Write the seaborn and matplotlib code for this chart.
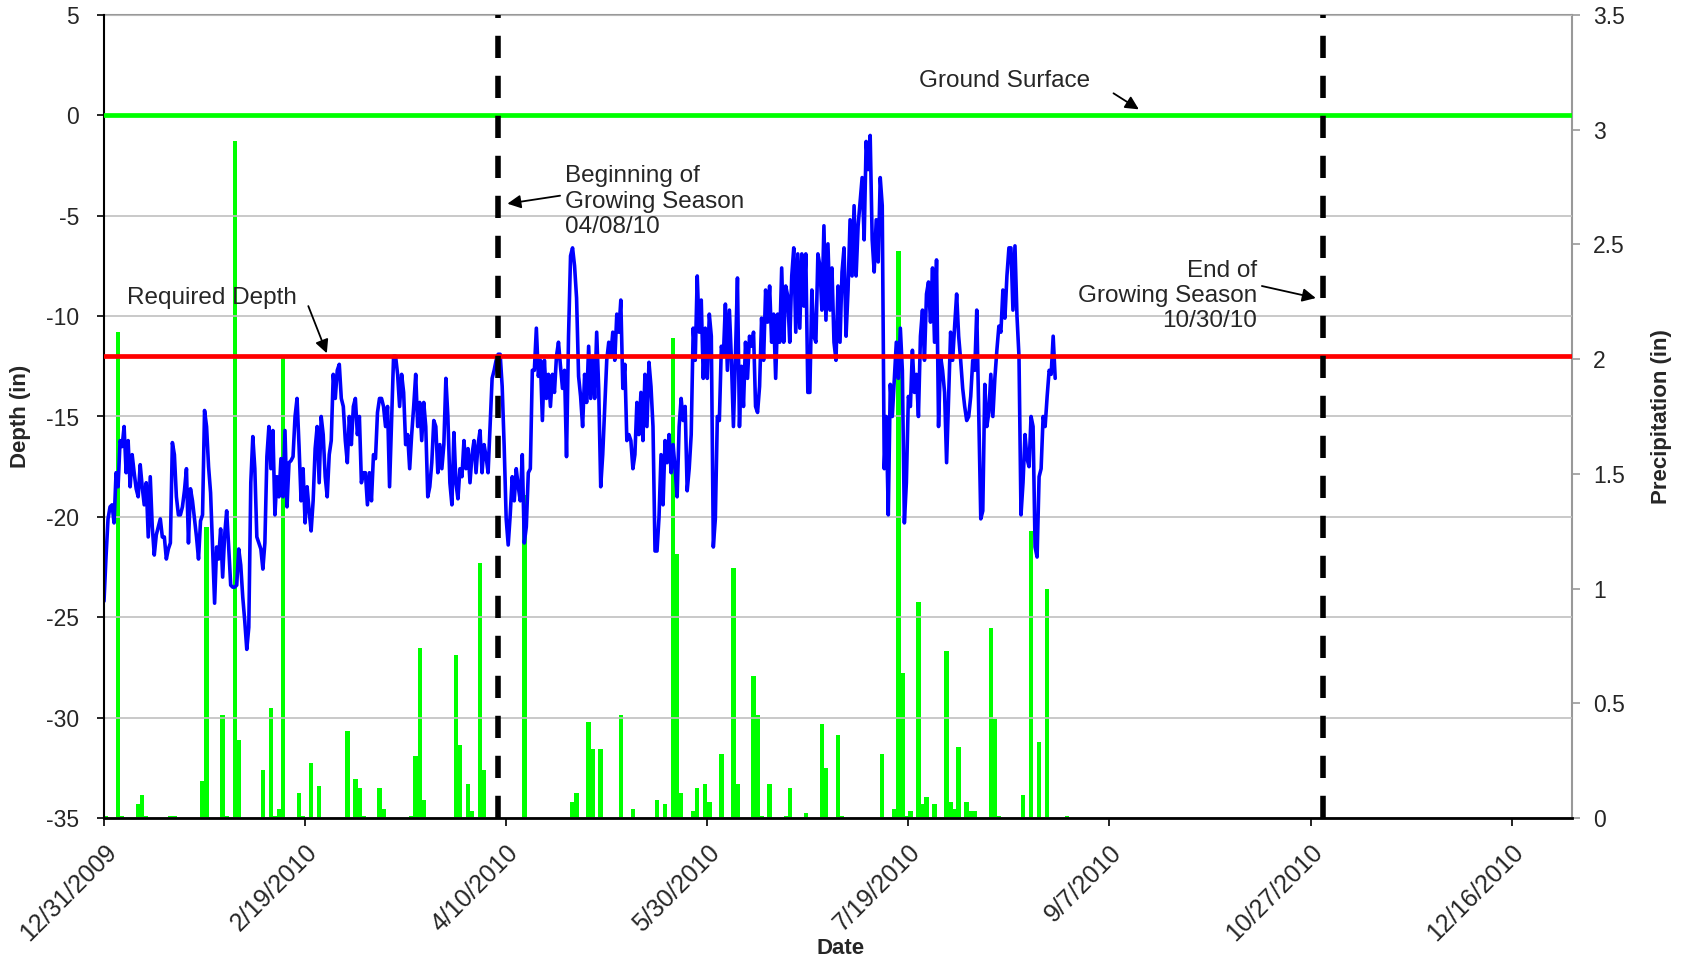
import numpy as np
import pandas as pd
import seaborn as sns
import matplotlib.pyplot as plt
from matplotlib.ticker import FuncFormatter

# Water table depth below ground (in), 12-hourly readings from 12/31/2009
depth_start = "2009-12-31"
depth = [
    -24.2, -22.0, -20.1, -19.5, -19.4, -20.3, -17.8, -18.5, -16.2, -16.5,
    -15.5, -17.8, -16.2, -18.5, -16.9, -17.8, -18.6, -19.0, -17.4, -18.5,
    -19.4, -18.3, -21.0, -18.0, -20.5, -21.9, -20.9, -20.5, -20.1, -21.0,
    -21.0, -22.1, -21.6, -21.3, -16.3, -16.9, -19.0, -19.9, -19.9, -19.5,
    -18.7, -17.6, -21.3, -18.6, -19.2, -20.1, -21.0, -22.1, -20.2, -19.9,
    -14.7, -15.5, -17.5, -18.8, -21.5, -24.3, -21.5, -22.1, -20.6, -23.0,
    -20.9, -19.7, -21.5, -23.4, -23.5, -23.5, -23.4, -21.6, -22.4, -24.0,
    -25.2, -26.6, -25.5, -18.3, -16.0, -17.6, -21.0, -21.3, -21.6, -22.6,
    -21.3, -17.0, -15.5, -17.6, -15.7, -19.9, -18.0, -19.0, -17.1, -19.0,
    -15.7, -19.5, -17.3, -17.2, -17.0, -15.0, -14.1, -16.5, -19.2, -17.6,
    -20.3, -18.5, -19.7, -20.7, -19.2, -16.6, -15.5, -18.3, -15.0, -15.9,
    -18.0, -19.0, -16.9, -16.2, -12.9, -14.1, -12.7, -12.4, -14.1, -14.5,
    -16.2, -17.3, -15.0, -16.4, -14.5, -14.1, -15.9, -15.0, -18.3, -17.8,
    -17.8, -19.4, -17.8, -19.2, -16.9, -17.1, -14.8, -14.1, -14.1, -14.5,
    -15.5, -14.5, -18.5, -15.2, -12.0, -12.0, -12.9, -14.5, -12.9, -13.8,
    -16.4, -15.9, -17.6, -15.9, -14.5, -12.9, -15.5, -14.3, -16.2, -14.3,
    -15.5, -19.0, -18.5, -17.3, -15.2, -15.5, -17.8, -16.4, -17.6, -16.4,
    -13.1, -15.0, -18.3, -19.4, -15.8, -18.3, -19.1, -17.6, -18.0, -16.2,
    -17.6, -16.6, -18.3, -16.9, -16.2, -17.8, -16.4, -15.7, -17.8, -16.4,
    -17.0, -17.8, -15.5, -13.1, -12.7, -12.2, -11.9, -11.9, -13.5, -16.5,
    -20.1, -21.4, -19.9, -18.0, -19.2, -17.6, -18.5, -19.2, -16.9, -21.3,
    -20.5, -17.8, -17.6, -12.7, -12.7, -10.6, -13.0, -12.2, -15.2, -12.2,
    -14.1, -12.9, -14.5, -12.9, -13.8, -12.0, -11.3, -12.5, -13.6, -12.7,
    -17.0, -11.0, -7.0, -6.6, -7.5, -9.1, -13.0, -14.0, -15.5, -12.9,
    -14.3, -11.5, -14.1, -12.0, -14.1, -10.8, -13.6, -18.5, -16.9, -14.5,
    -12.2, -11.3, -12.0, -10.8, -12.2, -9.9, -10.8, -9.2, -13.6, -12.4,
    -16.2, -15.9, -16.2, -17.6, -16.9, -14.3, -15.9, -13.8, -16.2, -12.9,
    -15.5, -12.3, -13.5, -15.5, -21.7, -21.7, -20.0, -16.9, -19.4, -16.2,
    -17.3, -15.9, -17.8, -16.4, -17.6, -19.0, -15.5, -14.1, -15.2, -14.5,
    -18.7, -17.6, -15.9, -10.6, -12.2, -8.0, -10.8, -9.2, -13.1, -10.6,
    -13.1, -9.9, -11.0, -21.5, -20.1, -15.0, -15.2, -11.5, -12.0, -9.4,
    -12.7, -9.7, -12.2, -15.5, -12.0, -8.1, -15.5, -12.5, -14.5, -11.3,
    -13.1, -11.0, -11.5, -10.8, -14.5, -14.8, -13.5, -10.1, -12.2, -8.7,
    -10.3, -8.5, -11.3, -9.9, -13.1, -9.9, -11.3, -7.6, -11.3, -8.5,
    -9.0, -11.3, -8.0, -6.6, -10.8, -6.9, -10.6, -6.9, -9.5, -6.9,
    -13.8, -13.8, -8.7, -11.0, -11.3, -6.9, -7.5, -9.7, -5.5, -10.2,
    -6.4, -9.7, -7.6, -11.3, -12.2, -8.5, -11.3, -7.8, -6.6, -11.0,
    -8.7, -5.2, -8.0, -4.5, -8.0, -5.5, -4.3, -3.1, -6.2, -1.3,
    -2.7, -1.0, -6.2, -7.8, -5.2, -7.3, -3.1, -4.5, -17.6, -15.0,
    -19.9, -13.4, -15.0, -13.1, -11.3, -13.1, -10.6, -12.7, -20.3, -18.3,
    -14.0, -14.5, -11.7, -13.8, -12.9, -15.0, -11.0, -9.7, -12.2, -8.9,
    -8.3, -10.3, -7.6, -11.3, -7.2, -15.5, -12.0, -12.7, -13.8, -17.3,
    -14.1, -10.8, -12.2, -10.5, -8.9, -11.0, -12.2, -13.6, -14.5, -15.2,
    -15.0, -14.0, -12.2, -12.7, -9.7, -15.0, -20.1, -19.7, -13.4, -15.5,
    -14.8, -12.9, -15.0, -13.1, -11.7, -10.5, -10.8, -8.7, -10.1, -8.0,
    -6.6, -6.6, -9.7, -6.5, -10.0, -12.0, -19.9, -18.3, -15.9, -17.1,
    -17.5, -15.0, -15.5, -21.5, -22.0, -18.0, -17.6, -15.0, -15.5, -14.0,
    -12.7, -12.9, -11.0, -13.1,
]

# Daily precipitation (in), rain days only
rain_dates = [
    "2009-12-31", "2010-01-03", "2010-01-04", "2010-01-08", "2010-01-09", "2010-01-10",
    "2010-01-16", "2010-01-17", "2010-01-24", "2010-01-25", "2010-01-29", "2010-01-30",
    "2010-02-01", "2010-02-02", "2010-02-08", "2010-02-10", "2010-02-11", "2010-02-12",
    "2010-02-13", "2010-02-17", "2010-02-18", "2010-02-20", "2010-02-22", "2010-03-01",
    "2010-03-03", "2010-03-04", "2010-03-05", "2010-03-09", "2010-03-10", "2010-03-17",
    "2010-03-18", "2010-03-19", "2010-03-20", "2010-03-28", "2010-03-29", "2010-03-31",
    "2010-04-01", "2010-04-03", "2010-04-04", "2010-04-14", "2010-04-26", "2010-04-27",
    "2010-04-30", "2010-05-01", "2010-05-03", "2010-05-08", "2010-05-11", "2010-05-17",
    "2010-05-19", "2010-05-21", "2010-05-22", "2010-05-23", "2010-05-26", "2010-05-27",
    "2010-05-29", "2010-05-30", "2010-06-02", "2010-06-05", "2010-06-06", "2010-06-10",
    "2010-06-11", "2010-06-12", "2010-06-14", "2010-06-18", "2010-06-19", "2010-06-23",
    "2010-06-27", "2010-06-28", "2010-07-01", "2010-07-02", "2010-07-12", "2010-07-15",
    "2010-07-16", "2010-07-17", "2010-07-18", "2010-07-19", "2010-07-21", "2010-07-22",
    "2010-07-23", "2010-07-25", "2010-07-28", "2010-07-29", "2010-07-30", "2010-07-31",
    "2010-08-02", "2010-08-03", "2010-08-04", "2010-08-08", "2010-08-09", "2010-08-10",
    "2010-08-16", "2010-08-18", "2010-08-20", "2010-08-22", "2010-08-27",
]
rain_in = [
    0.01, 2.12, 0.01, 0.06, 0.10, 0.01,
    0.01, 0.01, 0.16, 1.27, 0.45, 0.01,
    2.95, 0.34, 0.21, 0.48, 0.01, 0.04,
    2.01, 0.11, 0.01, 0.24, 0.14, 0.38,
    0.17, 0.13, 0.01, 0.13, 0.04, 0.01,
    0.27, 0.74, 0.08, 0.71, 0.32, 0.15,
    0.03, 1.11, 0.21, 1.41, 0.07, 0.11,
    0.42, 0.30, 0.30, 0.45, 0.04, 0.08,
    0.06, 2.09, 1.15, 0.11, 0.03, 0.13,
    0.15, 0.07, 0.28, 1.09, 0.15, 0.62,
    0.45, 0.01, 0.15, 0.01, 0.13, 0.02,
    0.41, 0.22, 0.36, 0.01, 0.28, 0.04,
    2.47, 0.63, 0.01, 0.03, 0.94, 0.06,
    0.09, 0.06, 0.73, 0.07, 0.04, 0.31,
    0.07, 0.03, 0.03, 0.83, 0.43, 0.01,
    0.10, 1.25, 0.33, 1.00, 0.01,
]

tick_dates = ["2009-12-31", "2010-02-19", "2010-04-10", "2010-05-30",
              "2010-07-19", "2010-09-07", "2010-10-27", "2010-12-16"]
tick_labels = ["12/31/2009", "2/19/2010", "4/10/2010", "5/30/2010",
               "7/19/2010", "9/7/2010", "10/27/2010", "12/16/2010"]

season_start = "2010-04-08"
season_end = "2010-10-30"
required_depth = -12
ground_surface = 0

sns.set_style("white")
plt.rcParams['font.family'] = ['Liberation Sans', 'DejaVu Sans']
plt.rcParams['axes.unicode_minus'] = False

fig = plt.figure(figsize=(16.96, 9.63), dpi=100)
ax = fig.add_axes([104/1696, 1 - 818/963, (1572 - 104)/1696, (818 - 15)/963])
ax2 = ax.twinx()
ax.set_zorder(ax2.get_zorder() + 1)
ax.patch.set_visible(False)

green = '#00FF00'

# precipitation bars on the right axis
rain_x = pd.to_datetime(rain_dates) + pd.Timedelta(hours=12)
ax2.bar(rain_x, rain_in, width=1.1, align='center', color=green, linewidth=0)
ax2.set_ylim(0, 3.5)
ax2.set_yticks(np.arange(0, 3.51, 0.5))
ax2.yaxis.set_major_formatter(FuncFormatter(lambda v, p: f"{v:g}"))
ax2.set_ylabel("Precipitation (in)", fontsize=16, fontweight='bold')
ax2.yaxis.set_label_coords(1.054, 0.5)

# depth line
times = pd.date_range(depth_start, periods=len(depth), freq='12h')
df = pd.DataFrame({'Date': times, 'Depth': depth})
sns.lineplot(data=df, x='Date', y='Depth', ax=ax, color='#0000FF', lw=2.6)

ax.axhline(ground_surface, color=green, lw=3.4, zorder=3)
ax.axhline(required_depth, color='#FF0000', lw=3.4, zorder=3)
for d in [season_start, season_end]:
    ax.axvline(pd.Timestamp(d), color='black', lw=4, dashes=(4.0, 3.2), zorder=4)

t0 = pd.Timestamp('2009-12-31')
ax.set_xlim(t0, pd.Timestamp('2010-12-31'))
ax.set_ylim(-35, 5)
ax.set_yticks(range(-35, 6, 5))
ax.set_xticks(pd.to_datetime(tick_dates))
ax.set_xticklabels(tick_labels, rotation=45, ha='right', rotation_mode='anchor')

ax.yaxis.grid(True, color='#C0C0C0', lw=1.2)
ax.xaxis.grid(False)
ax2.grid(False)

for s in ['top', 'right']:
    ax.spines[s].set_visible(False)
ax.spines['left'].set_color('black')
ax.spines['left'].set_linewidth(1.5)
ax.spines['bottom'].set_color('black')
ax.spines['bottom'].set_linewidth(2)
ax2.spines['left'].set_visible(False)
ax2.spines['bottom'].set_visible(False)
ax2.spines['top'].set_color('#999999')
ax2.spines['top'].set_linewidth(1.5)
ax2.spines['right'].set_color('#999999')
ax2.spines['right'].set_linewidth(1.5)

ax.tick_params(axis='y', direction='out', length=5, width=1.2, color='black',
               labelsize=16.5, pad=13, left=True)
ax.tick_params(axis='x', direction='out', length=6, width=1.2, color='black',
               labelsize=18, pad=10, bottom=True)
ax2.tick_params(axis='y', direction='out', length=6, width=1.2, color='#999999',
                labelsize=16.5, pad=9, right=True)

ax.set_ylabel("Depth (in)", fontsize=16, fontweight='bold')
ax.yaxis.set_label_coords(-0.050, 0.5)
ax.set_xlabel("Date", fontsize=16, fontweight='bold')
ax.xaxis.set_label_coords(0.502, -0.150)


def at(days):
    return t0 + pd.Timedelta(days=days)


arrow = dict(arrowstyle='-|>', color='black', lw=1.3, mutation_scale=20,
             shrinkA=0, shrinkB=0)
note = dict(fontsize=17.5)
ax.text(at(202.7), 1.7, "Ground Surface", va='center', ha='left', **note)
ax.annotate("", xy=(at(257.3), 0.3), xytext=(at(251), 1.1), arrowprops=arrow)

ax.text(at(5.6), -9.1, "Required Depth", va='center', ha='left', **note)
ax.annotate("", xy=(at(55.4), -11.85), xytext=(at(50.8), -9.5), arrowprops=arrow)

ax.text(at(114.5), -4.3, "Beginning of\nGrowing Season\n04/08/10",
        va='center', ha='left', linespacing=1.2, **note)
ax.annotate("", xy=(at(100.3), -4.4), xytext=(at(113.4), -4.0), arrowprops=arrow)

ax.text(at(286.8), -9.0, "End of\nGrowing Season\n10/30/10",
        va='center', ha='right', multialignment='right', linespacing=1.2, **note)
ax.annotate("", xy=(at(301.3), -9.1), xytext=(at(287.9), -8.5), arrowprops=arrow)

fig.savefig("out.png", dpi=100)
